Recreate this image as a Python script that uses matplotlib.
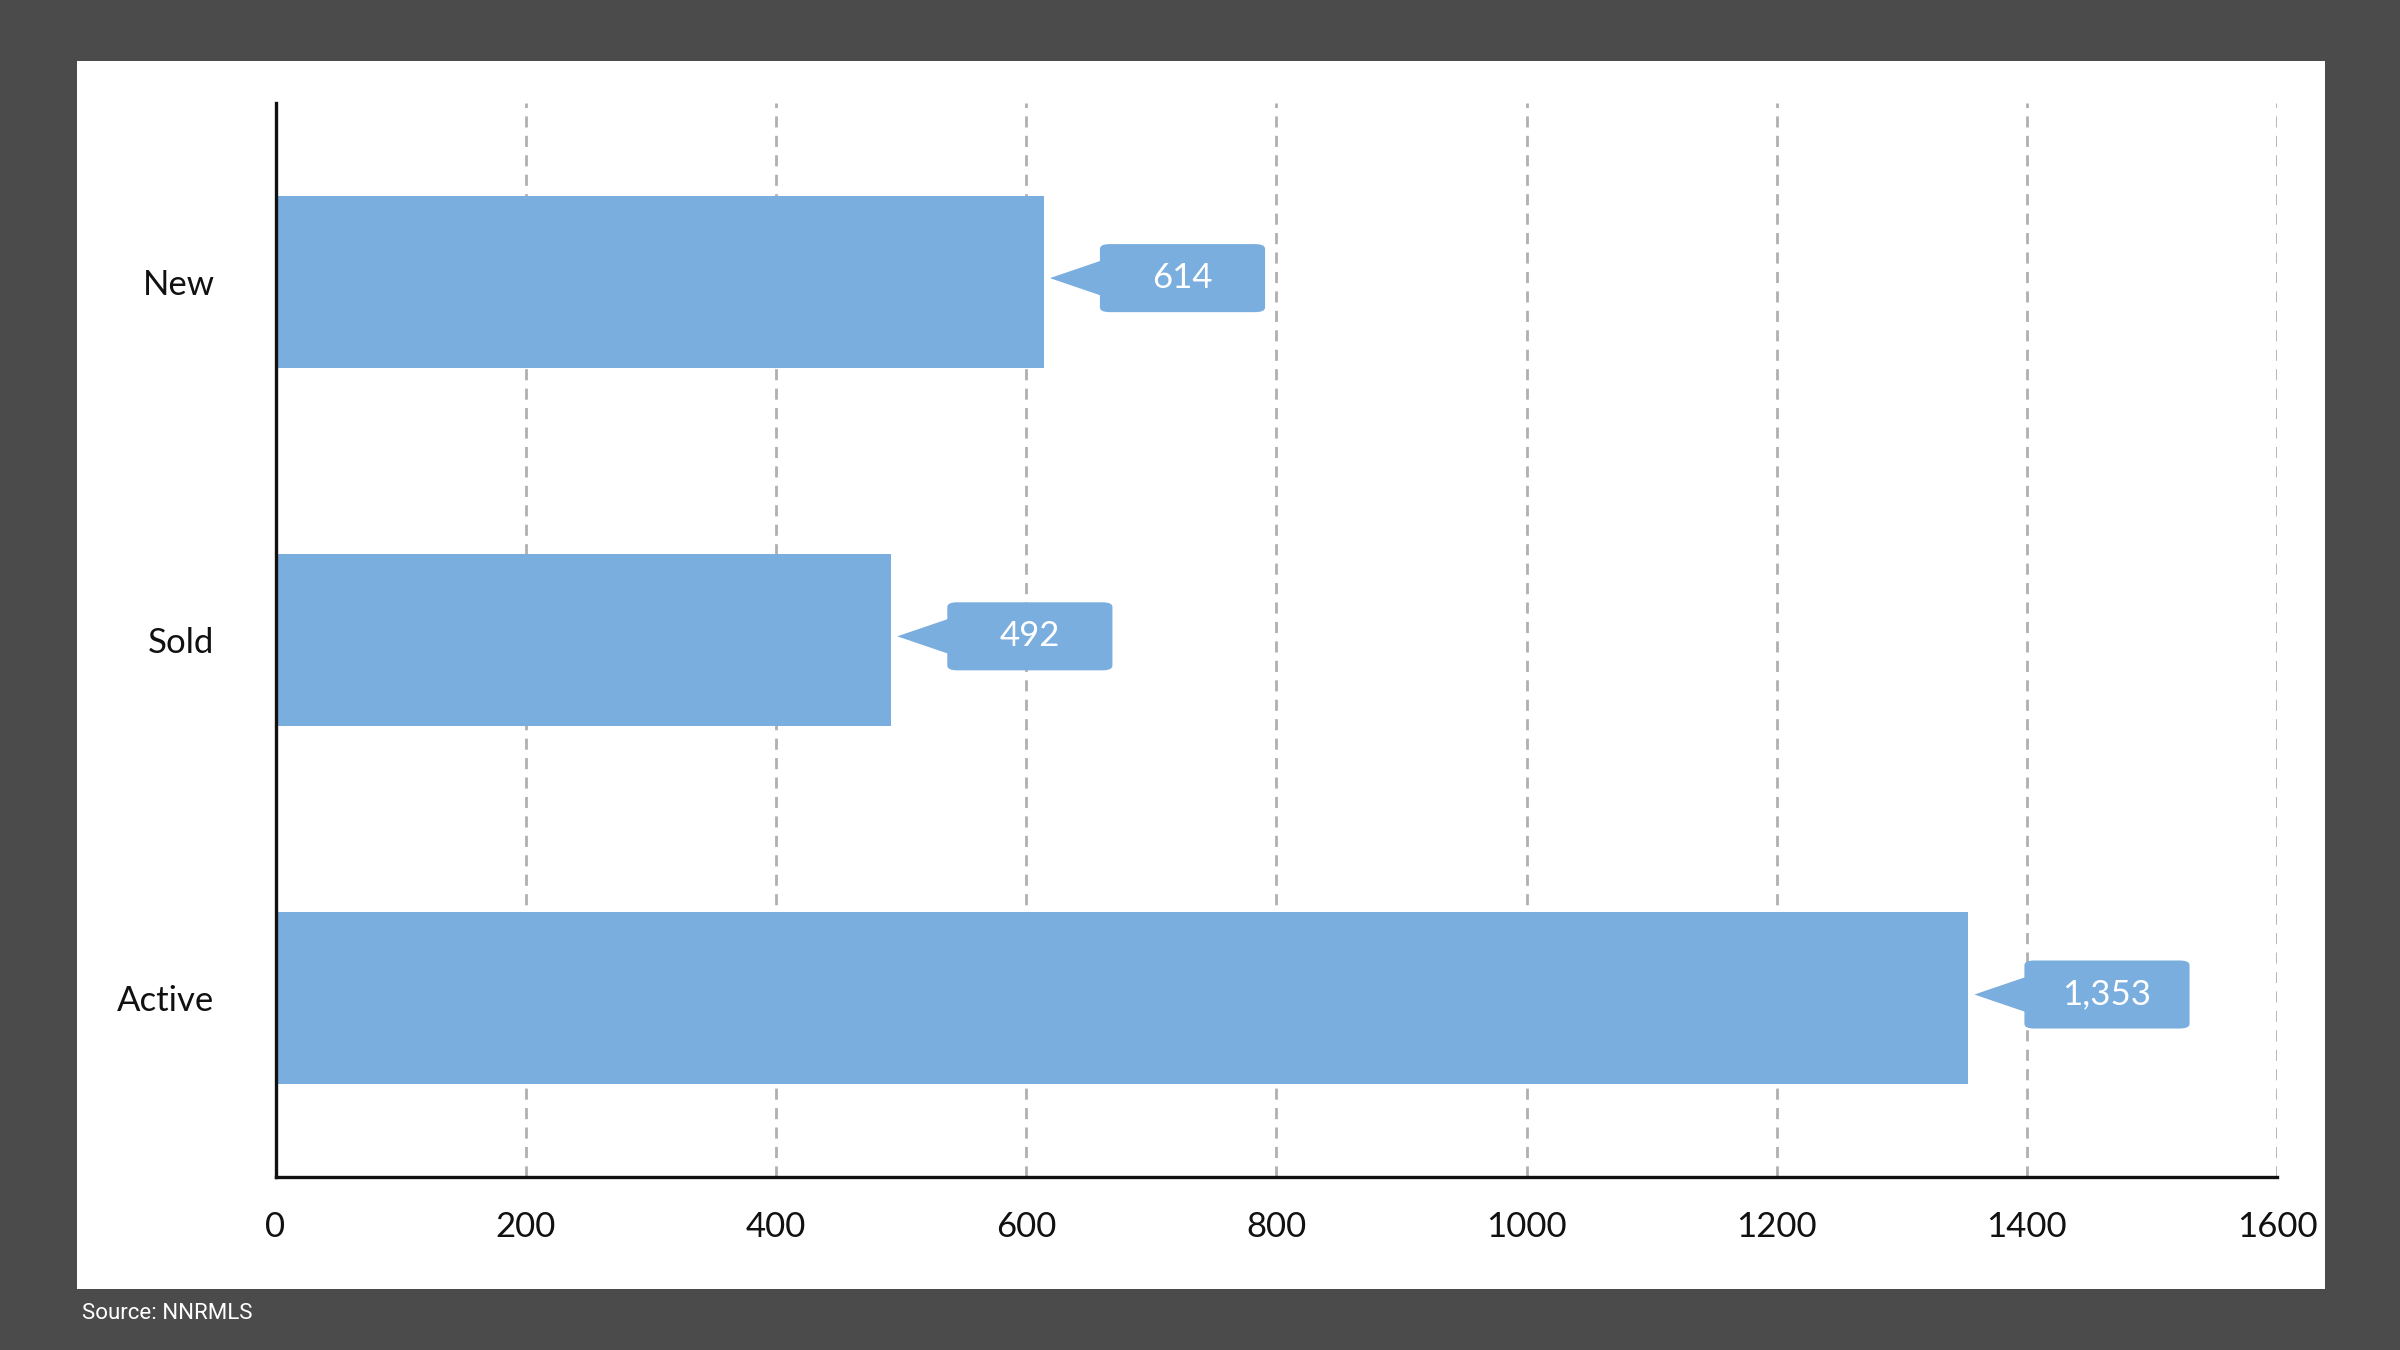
import matplotlib.pyplot as plt
from matplotlib.patches import FancyBboxPatch, Polygon, Rectangle

# listing counts
categories = ['New', 'Sold', 'Active']
values = [614, 492, 1353]
labels = ['614', '492', '1,353']

bar_color = '#7aaede'
plt.rcParams['font.family'] = ['Lato', 'DejaVu Sans']

fig = plt.figure(figsize=(12, 6.75), dpi=200)
fig.patch.set_facecolor('#4b4b4b')
# white panel behind the axes
fig.patches.append(Rectangle((0.0319, 0.0454), 0.9369, 0.9092, transform=fig.transFigure,
                             facecolor='white', edgecolor='none', zorder=-5))

ax = fig.add_axes([0.1148, 0.128, 0.834, 0.796])
ax.set_zorder(5)
ax.set_facecolor('none')
pos = list(range(len(categories)))
ax.barh(pos, values, height=0.48, color=bar_color, zorder=2)
ax.set_ylim(2.5, -0.5)
ax.set_xlim(0, 1600)
ax.set_xticks(range(0, 1601, 200))
ax.set_yticks(pos)
ax.set_yticklabels(categories)
ax.tick_params(axis='both', length=0, labelsize=12.5, colors='#111111')
ax.tick_params(axis='y', pad=22)
ax.tick_params(axis='x', pad=12)
ax.xaxis.grid(True, linestyle=(0, (4, 3)), color='#b0b0b0', linewidth=1.0, zorder=1)
for s in ['top', 'right']:
    ax.spines[s].set_visible(False)
for s in ['left', 'bottom']:
    ax.spines[s].set_color('#111111')
    ax.spines[s].set_linewidth(1.2)

# callouts
for p, v, lab in zip(pos, values, labels):
    x0 = v + 45
    w, h = 132, 0.19
    yc = p - 0.01
    ax.add_patch(FancyBboxPatch((x0, yc - h / 2), w, h, boxstyle='round,pad=0,rounding_size=8',
                                mutation_aspect=0.0016, facecolor=bar_color, edgecolor='none',
                                zorder=3, clip_on=False))
    ax.add_patch(Polygon([(v + 5, yc), (x0 + 2, yc - 0.05), (x0 + 2, yc + 0.05)],
                         facecolor=bar_color, edgecolor='none', zorder=3, clip_on=False))
    ax.text(x0 + w / 2, yc, lab, color='white', fontsize=12.5, ha='center', va='center', zorder=4)

fig.text(0.034, 0.027, 'Source: NNRMLS', color='white', fontsize=8,
         family=['Roboto', 'DejaVu Sans'], va='center')

fig.savefig('out.png', dpi=200, facecolor=fig.get_facecolor())
